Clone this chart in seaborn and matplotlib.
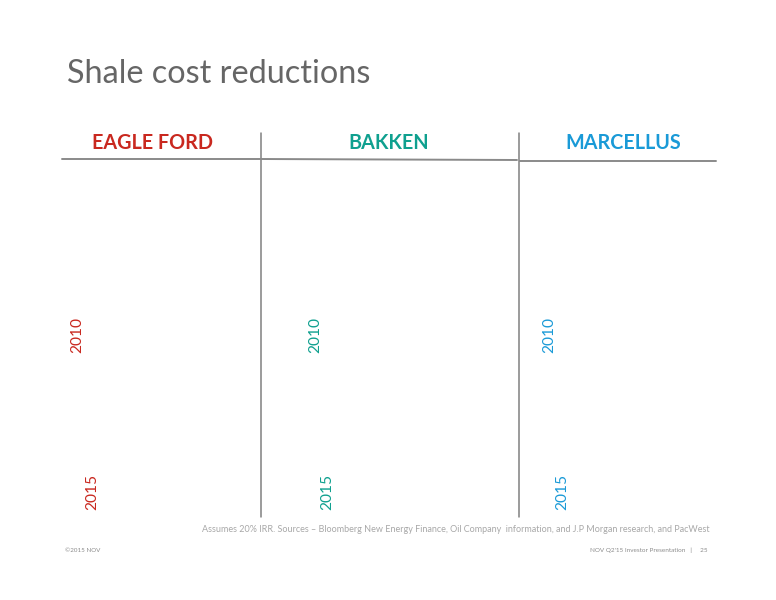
import matplotlib
matplotlib.use("Agg")
import matplotlib.pyplot as plt
import seaborn as sns
import pandas as pd

# ---- data (text content of the slide) ----
title = "Shale cost reductions"
regions = ["EAGLE FORD", "BAKKEN", "MARCELLUS"]
region_colors = ["#C9281F", "#0FA08F", "#1A9AD7"]
years = ["2010", "2015"]
footnote = ("Assumes 20% IRR. Sources \u2013 Bloomberg New Energy Finance, Oil Company  "
            "information, and J.P Morgan research, and PacWest")
footer_left = "\u00a92015 NOV"
footer_right = "NOV Q2'15 Investor Presentation   |     25"

sns.set_theme(style="white")
plt.rcParams['font.family'] = ['Lato', 'DejaVu Sans']

W, H = 776, 600
fig = plt.figure(figsize=(W / 100, H / 100), dpi=100)
ax = fig.add_axes([0, 0, 1, 1])

# layout (pixel positions)
header_x = [153, 389, 623]
header_y = 143
year_x = [(77, 92), (315, 327), (549, 562)]
year_y = [335, 492]

ax.text(67, 74, title, fontsize=23.3, color="#666666", va="center", ha="left")

for i, (reg, col) in enumerate(zip(regions, region_colors)):
    ax.text(header_x[i], header_y, reg, fontsize=14.2, fontweight="bold", color=col,
            ha="center", va="center")
    for j, yr in enumerate(years):
        ax.text(year_x[i][j], year_y[j], yr, fontsize=11.2, color=col, rotation=90,
                ha="center", va="center")

# divider lines
lines = pd.DataFrame({
    "x": [62, 260, 262, 517, 520, 716],
    "y": [159, 159, 159, 160, 161, 161],
    "seg": [0, 0, 1, 1, 2, 2],
})
sns.lineplot(data=lines, x="x", y="y", units="seg", estimator=None, color="#8A8A8A",
             linewidth=1.4, ax=ax, sort=False)
vlines = pd.DataFrame({"x": [261, 261, 519, 519], "y": [133, 517, 133, 517], "seg": [0, 0, 1, 1]})
sns.lineplot(data=vlines, x="x", y="y", units="seg", estimator=None, color="#808080",
             linewidth=1.1, ax=ax, sort=False)
ax.set_xlim(0, W)
ax.set_ylim(H, 0)
ax.axis("off")

ax.text(710, 529, footnote, fontsize=6.5, color="#A8A8A8", ha="right", va="center")
ax.text(65, 550, footer_left, fontsize=4.5, color="#8C8C8C", ha="left", va="center")
ax.text(708, 550, footer_right, fontsize=4.6, color="#8C8C8C", ha="right", va="center")

fig.savefig("out.png", dpi=100)
